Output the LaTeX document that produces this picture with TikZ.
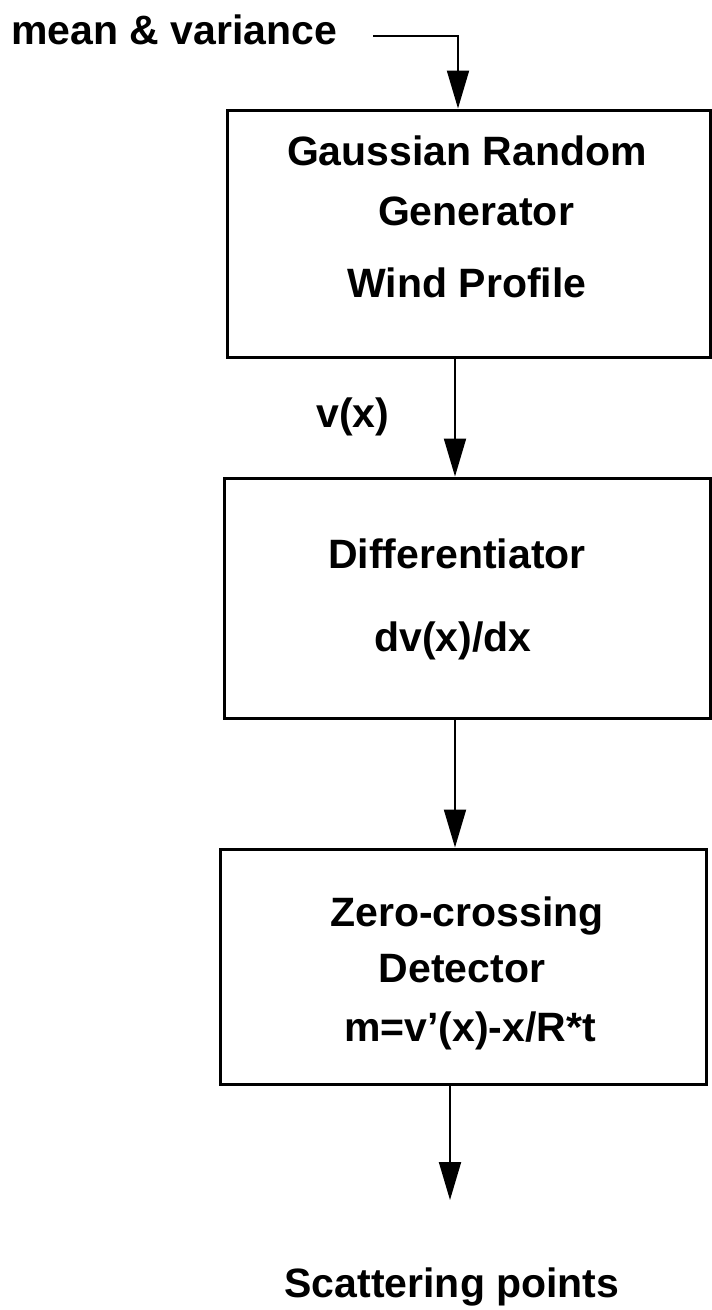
\documentclass[tikz,border=0pt]{standalone}
\usepackage{fontspec}
\setmainfont{Liberation Sans}
\usetikzlibrary{arrows.meta}
\begin{document}
\begin{tikzpicture}[x=1pt,y=-1pt,
  box/.style={draw, line width=3pt, inner sep=0pt},
  lbl/.style={font=\fontsize{41}{49}\selectfont\bfseries, inner sep=0pt, anchor=base},
  arr/.style={line width=2pt, -{Triangle[length=38pt,width=22pt]}}]
\fill[white] (0,0) rectangle (712,1310);
\useasboundingbox (0,0) rectangle (712,1310);

% boxes
\node[box, minimum width=483pt, minimum height=247pt] (b1) at (468.5,233.5) {};
\node[box, minimum width=486pt, minimum height=240pt] (b2) at (467,598) {};
\node[box, minimum width=486pt, minimum height=235pt] (b3) at (463,966.5) {};

% texts
\node[lbl] (tmv) at (174,44) {mean \& variance};
\node[lbl] (t1a) at (467,165) {Gaussian Random};
\node[lbl] (t1b) at (476,225) {Generator};
\node[lbl] (t1c) at (467,297) {Wind Profile};
\node[lbl] (tvx) at (353,427) {v(x)};
\node[lbl] (t2a) at (457,568) {Differentiator};
\node[lbl] (t2b) at (453,651) {dv(x)/dx};
\node[lbl] (t3a) at (467,926) {Zero-crossing};
\node[lbl] (t3b) at (462,982) {Detector};
\node[lbl] (t3c) at (470,1041) {m=v’(x)-x/R*t};
\node[lbl] (tsp) at (452,1297) {Scattering points};

% connectors
\coordinate (mv) at (373,36);
\coordinate (out) at (450,1200);
\draw[arr] (mv) -| ([xshift=-10.5pt]b1.north);
\draw[arr] ([xshift=-13.5pt]b1.south) -- ([xshift=-12pt]b2.north);
\draw[arr] ([xshift=-12pt]b2.south) -- ([xshift=-8pt]b3.north);
\draw[arr] ([xshift=-13pt]b3.south) -- (out);
\end{tikzpicture}
\end{document}
